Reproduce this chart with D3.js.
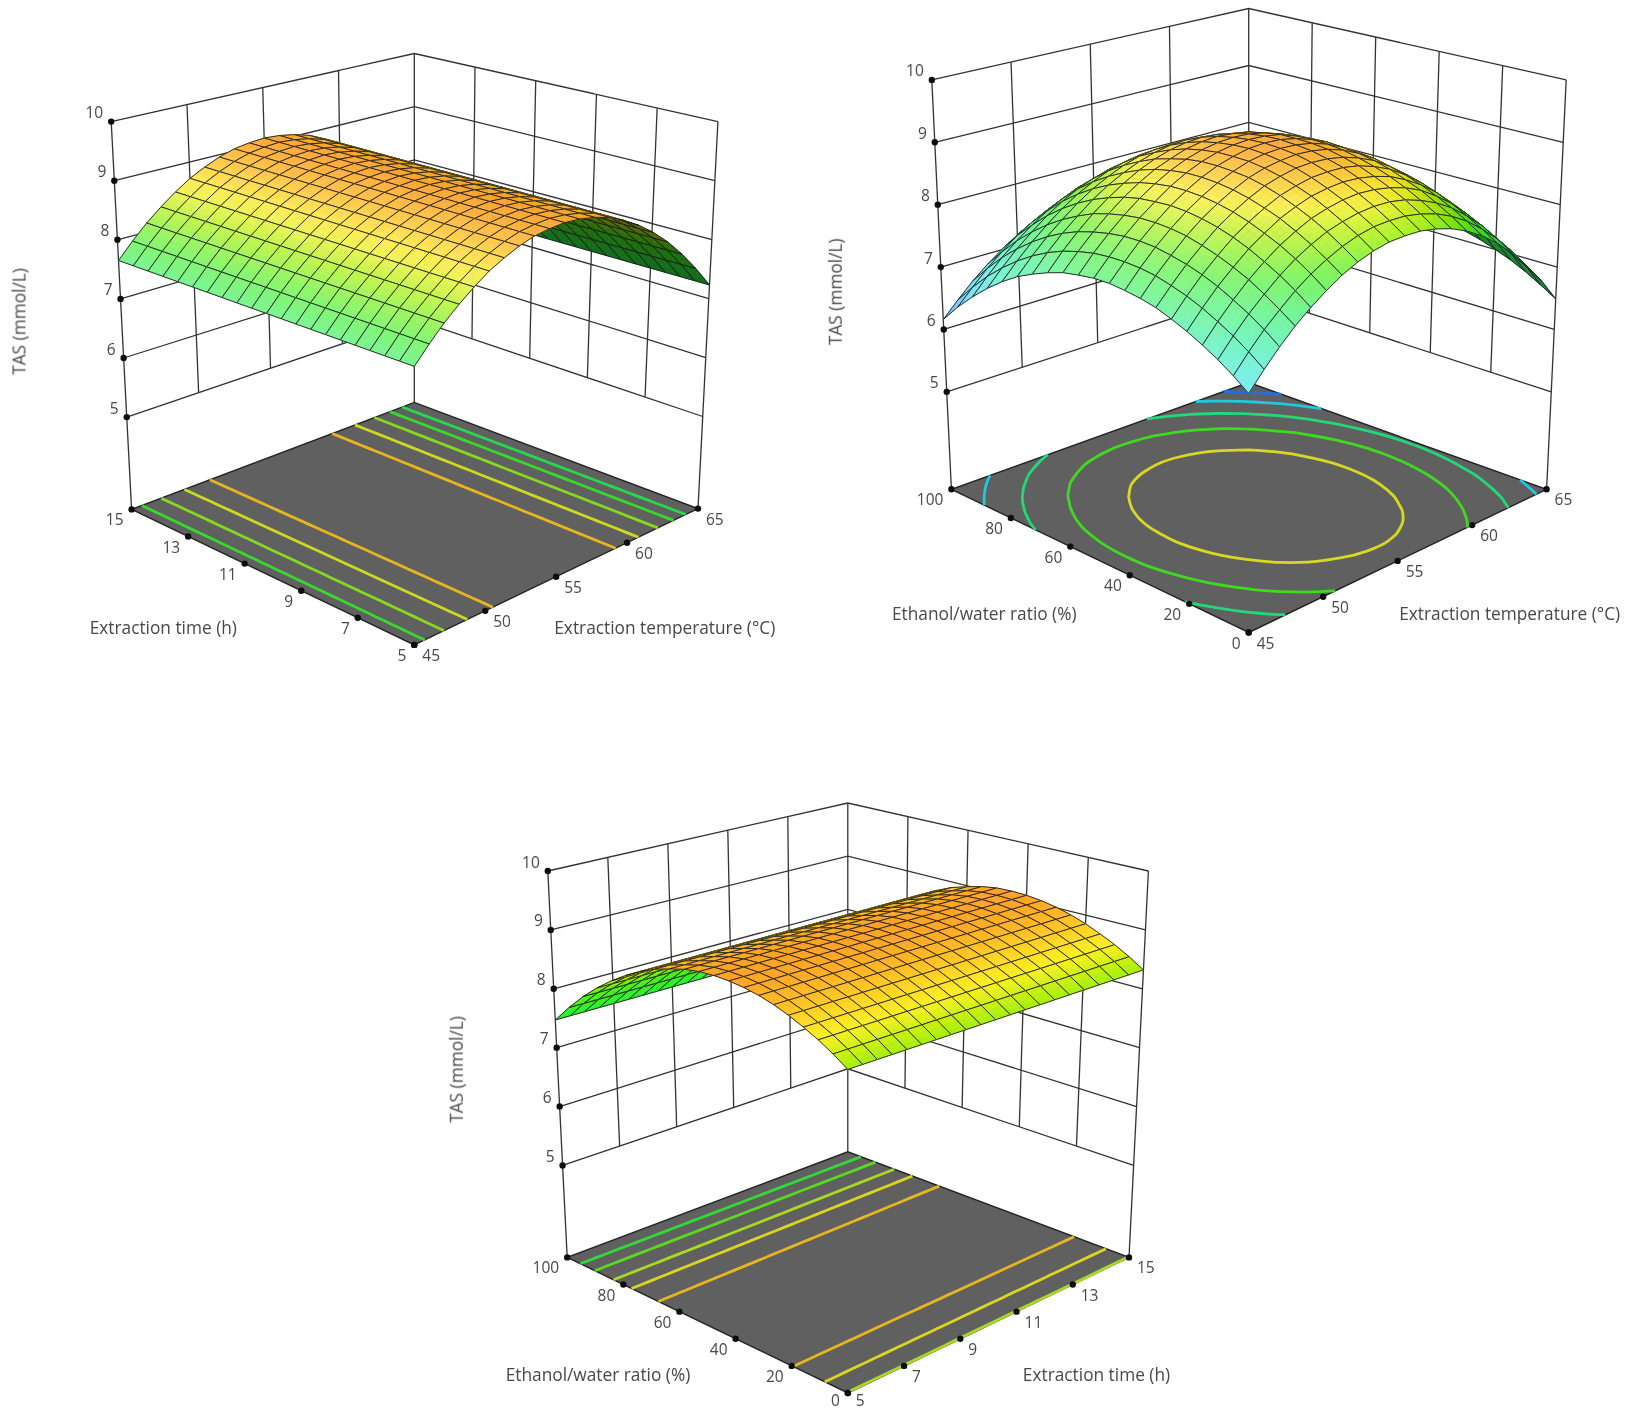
<!DOCTYPE html>
<html>
<head>
<meta charset="utf-8">
<title>TAS response surfaces</title>
<script src="https://cdn.jsdelivr.net/npm/d3@7"></script>
<style>
  html, body { margin: 0; background: #fff; }
  text { font-family: "Open Sans", sans-serif; font-size: 15.5px; fill: #484848; }
  text.title { font-size: 17.3px; }
</style>
</head>
<body>
<svg id="chart" width="1628" height="1411"></svg>
<script>
var tasTicks = [5, 6, 7, 8, 9, 10];
var tempTicks = [45, 50, 55, 60, 65];
var timeTicks = [5, 7, 9, 11, 13, 15];
var ratioTicks = [0, 20, 40, 60, 80, 100];

// TAS read along the temperature axis (time has no visible effect in this plot)
var tempProfile = [7.65, 7.91, 8.15, 8.36, 8.55, 8.72, 8.85, 8.96, 9.04, 9.08, 9.10, 9.08, 9.03, 8.95, 8.82, 8.66, 8.46, 8.22, 7.93, 7.60, 7.23];
// TAS read along the ethanol/water axis (same, time is flat)
var ratioProfile = [8.32, 8.48, 8.62, 8.74, 8.85, 8.94, 9.01, 9.06, 9.09, 9.10, 9.09, 9.05, 8.98, 8.90, 8.78, 8.64, 8.47, 8.27, 8.04, 7.77, 7.47];
// rows: ethanol/water 0..100, columns: temperature 45..65
var tempRatioGrid = [
  [6.75, 7.01, 7.25, 7.47, 7.66, 7.83, 7.98, 8.10, 8.19, 8.25, 8.27, 8.27, 8.23, 8.16, 8.05, 7.90, 7.71, 7.47, 7.19, 6.87, 6.49],
  [6.92, 7.18, 7.42, 7.63, 7.83, 8.00, 8.14, 8.26, 8.35, 8.41, 8.43, 8.43, 8.39, 8.32, 8.21, 8.06, 7.86, 7.63, 7.35, 7.02, 6.64],
  [7.07, 7.33, 7.57, 7.78, 7.98, 8.15, 8.29, 8.41, 8.49, 8.55, 8.58, 8.58, 8.54, 8.46, 8.35, 8.20, 8.00, 7.77, 7.49, 7.16, 6.78],
  [7.20, 7.46, 7.70, 7.92, 8.11, 8.28, 8.42, 8.54, 8.62, 8.68, 8.71, 8.70, 8.66, 8.59, 8.48, 8.32, 8.13, 7.89, 7.61, 7.28, 6.90],
  [7.32, 7.58, 7.82, 8.03, 8.23, 8.39, 8.54, 8.65, 8.74, 8.79, 8.82, 8.81, 8.77, 8.70, 8.58, 8.43, 8.24, 8.00, 7.72, 7.39, 7.00],
  [7.42, 7.68, 7.92, 8.13, 8.33, 8.49, 8.63, 8.75, 8.83, 8.89, 8.91, 8.91, 8.87, 8.79, 8.68, 8.52, 8.33, 8.09, 7.80, 7.47, 7.09],
  [7.51, 7.76, 8.00, 8.21, 8.41, 8.57, 8.71, 8.83, 8.91, 8.97, 8.99, 8.98, 8.94, 8.86, 8.75, 8.59, 8.40, 8.16, 7.87, 7.54, 7.16],
  [7.57, 7.83, 8.06, 8.28, 8.47, 8.63, 8.77, 8.89, 8.97, 9.02, 9.05, 9.04, 9.00, 8.92, 8.80, 8.65, 8.45, 8.21, 7.92, 7.59, 7.21],
  [7.61, 7.87, 8.11, 8.32, 8.51, 8.67, 8.81, 8.92, 9.01, 9.06, 9.08, 9.07, 9.03, 8.95, 8.83, 8.68, 8.48, 8.24, 7.95, 7.62, 7.24],
  [7.64, 7.89, 8.13, 8.34, 8.53, 8.69, 8.83, 8.94, 9.02, 9.08, 9.10, 9.09, 9.04, 8.96, 8.85, 8.69, 8.49, 8.25, 7.96, 7.63, 7.24],
  [7.64, 7.89, 8.13, 8.34, 8.52, 8.69, 8.83, 8.94, 9.02, 9.07, 9.09, 9.08, 9.04, 8.95, 8.84, 8.68, 8.48, 8.24, 7.95, 7.61, 7.23],
  [7.61, 7.87, 8.10, 8.31, 8.50, 8.66, 8.80, 8.91, 8.99, 9.04, 9.06, 9.05, 9.00, 8.92, 8.80, 8.64, 8.44, 8.20, 7.91, 7.57, 7.19],
  [7.57, 7.82, 8.05, 8.26, 8.45, 8.61, 8.75, 8.85, 8.94, 8.99, 9.01, 8.99, 8.95, 8.86, 8.74, 8.58, 8.38, 8.14, 7.85, 7.51, 7.12],
  [7.49, 7.75, 7.98, 8.19, 8.37, 8.53, 8.67, 8.78, 8.86, 8.91, 8.93, 8.91, 8.86, 8.78, 8.66, 8.50, 8.30, 8.05, 7.76, 7.42, 7.03],
  [7.39, 7.65, 7.88, 8.08, 8.27, 8.43, 8.56, 8.67, 8.75, 8.80, 8.82, 8.80, 8.75, 8.67, 8.55, 8.39, 8.18, 7.94, 7.64, 7.30, 6.91],
  [7.27, 7.52, 7.75, 7.95, 8.14, 8.30, 8.43, 8.54, 8.62, 8.66, 8.68, 8.67, 8.62, 8.53, 8.41, 8.25, 8.04, 7.79, 7.50, 7.16, 6.77],
  [7.11, 7.36, 7.59, 7.79, 7.98, 8.14, 8.27, 8.38, 8.45, 8.50, 8.52, 8.50, 8.45, 8.36, 8.24, 8.08, 7.87, 7.62, 7.33, 6.99, 6.60],
  [6.92, 7.17, 7.40, 7.60, 7.79, 7.95, 8.08, 8.18, 8.26, 8.31, 8.32, 8.30, 8.25, 8.17, 8.04, 7.88, 7.67, 7.42, 7.12, 6.78, 6.39],
  [6.70, 6.95, 7.18, 7.38, 7.56, 7.72, 7.85, 7.96, 8.03, 8.08, 8.09, 8.07, 8.02, 7.93, 7.81, 7.64, 7.43, 7.18, 6.89, 6.54, 6.15],
  [6.45, 6.69, 6.92, 7.12, 7.31, 7.46, 7.59, 7.70, 7.77, 7.81, 7.83, 7.81, 7.76, 7.67, 7.54, 7.37, 7.17, 6.91, 6.62, 6.27, 5.88],
  [6.16, 6.40, 6.63, 6.83, 7.01, 7.17, 7.30, 7.40, 7.47, 7.52, 7.53, 7.51, 7.46, 7.37, 7.24, 7.07, 6.86, 6.61, 6.31, 5.96, 5.57]
];

var levelsTempTime = [8.79, 8.50, 8.17, 7.84, 7.55];
var levelsTempRatio = [8.55, 7.95, 7.35, 6.75, 6.20];
var levelsTimeRatio = [8.84, 8.57, 8.33, 8.03, 7.75];

var labelTemp = "Extraction temperature (\u00b0C)";
var labelTime = "Extraction time (h)";
var labelRatio = "Ethanol/water ratio (%)";
var labelTas = "TAS (mmol/L)";

var gridSteps = d3.range(tempProfile.length);

var panels = [
  {
    grid: gridSteps.map(function () { return tempProfile; }),
    levels: levelsTempTime, glow: 0.1,
    aTicks: tempTicks, bTicks: timeTicks, wallA: 3, wallB: 4,
    aLabel: labelTemp, bLabel: labelTime,
    front: [414.3, 644.9], right: [698, 508.6], left: [131.6, 509.4], back: [414.3, 402.4],
    topFront: [414.3, 211], topRight: [717.9, 121.6], topLeft: [111.2, 121.6], topBack: [414.3, 53.5],
    aTitle: [664.8, 627], bTitle: [163.3, 627], zTitle: [18.5, 321.5]
  },
  {
    grid: tempRatioGrid,
    levels: levelsTempRatio, glow: 0.14,
    aTicks: tempTicks, bTicks: ratioTicks, wallA: 3, wallB: 4,
    aLabel: labelTemp, bLabel: labelRatio,
    front: [1248.7, 632.5], right: [1546.6, 489.3], left: [951.4, 489.3], back: [1248.7, 382.5],
    topFront: [1248.7, 159], topRight: [1566.2, 79.9], topLeft: [931.8, 79.9], topBack: [1248.7, 8.5],
    aTitle: [1509.7, 613.6], bTitle: [984.3, 613.6], zTitle: [834.8, 291.8]
  },
  {
    grid: ratioProfile.map(function (v) { return gridSteps.map(function () { return v; }); }),
    levels: levelsTimeRatio, glow: 0.02,
    aTicks: timeTicks, bTicks: ratioTicks, wallA: 4, wallB: 4,
    aLabel: labelTime, bLabel: labelRatio,
    front: [847.8, 1393], right: [1129, 1257.4], left: [567.2, 1257.4], back: [847.8, 1151.8],
    topFront: [847.8, 958.1], topRight: [1148.4, 871], topLeft: [547.8, 871], topBack: [847.8, 803],
    aTitle: [1096.5, 1374.7], bTitle: [598, 1374.7], zTitle: [455.8, 1069.5]
  }
];

// contour and surface colours follow TAS
var surfaceColor = d3.scaleLinear()
  .domain([5.55, 6.15, 6.75, 7.35, 7.95, 8.35, 8.65, 8.95, 9.1])
  .range(["#1f5fe0", "#2a90f0", "#28e0f0", "#20f090", "#40f020", "#a8f000", "#fff020", "#ffb820", "#ffa020"])
  .clamp(true);
var lineColor = d3.scaleLinear()
  .domain([6.15, 6.75, 7.35, 7.55, 7.95, 8.2, 8.55, 8.8])
  .range(["#2468d8", "#20c8e0", "#20d878", "#28d850", "#40d820", "#90d820", "#d8d820", "#e8b420"])
  .clamp(true);

var heightScale = d3.scaleLinear().domain([5, 10]).range([0.238, 1]);

// the box is drawn from its 8 corners, tick spacing is even along each edge
// a: front->right, b: front->left, h: floor->top
function makeCamera(p) {
  function mix(u, v, t) { return u + (v - u) * t; }
  function axis(k) {
    return function (a, b, h) {
      var low = mix(mix(p.front[k], p.right[k], a), mix(p.left[k], p.back[k], a), b);
      var high = mix(mix(p.topFront[k], p.topRight[k], a), mix(p.topLeft[k], p.topBack[k], a), b);
      return mix(low, high, h);
    };
  }
  var fx = axis(0), fy = axis(1);
  return function (a, b, h) { return [fx(a, b, h), fy(a, b, h)]; };
}

function vertexColor(z, slopeA, slopeB, under, glow) {
  var c = d3.rgb(surfaceColor(z));
  if (under) {
    // seen from below: green, dark where the slope runs along a
    var dark = 1 - 0.55 * Math.abs(slopeA) / (Math.abs(slopeA) + Math.abs(slopeB) + 0.01);
    return [c.r * dark, c.g * dark, c.b * dark * 0.4];
  }
  var white = Math.max(0, Math.min(0.5, glow + slopeA * 0.05));
  var shade = 1 - Math.max(0, Math.min(0.2, -slopeA * 0.02));
  return [
    (c.r + (255 - c.r) * white) * shade,
    (c.g + (255 - c.g) * white) * shade,
    (c.b + (255 - c.b) * white) * shade
  ];
}

var svg = d3.select("#chart");
var root = svg.append("g").attr("filter", "url(#soft)");
svg.append("filter").attr("id", "soft")
  .attr("filterUnits", "userSpaceOnUse")
  .attr("x", 0).attr("y", 0).attr("width", 1628).attr("height", 1411)
  .append("feGaussianBlur").attr("stdDeviation", 0.45);

var line = d3.line();
var openCurve = d3.line().curve(d3.curveCatmullRom);
var closedCurve = d3.line().curve(d3.curveCatmullRomClosed);
var subCells = 3;

function drawPanel(p) {
  var g = root.append("g");
  var cam = makeCamera(p);
  var n = p.grid.length, z = p.grid;
  var step = d3.scaleLinear().domain([0, n - 1]).range([0, 1]);
  var aPos = d3.scaleLinear().domain(d3.extent(p.aTicks)).range([0, 1]);
  var bPos = d3.scaleLinear().domain(d3.extent(p.bTicks)).range([0, 1]);
  var top = heightScale(10), low = heightScale(5);

  function segment(list, stroke, width) {
    g.append("g").selectAll("path").data(list).enter().append("path")
      .attr("d", function (d) { return line(d); })
      .attr("fill", "none").attr("stroke", stroke).attr("stroke-width", width);
  }

  // walls
  var wall = [];
  tasTicks.forEach(function (v) {
    var h = heightScale(v);
    wall.push([cam(0, 1, h), cam(1, 1, h), cam(1, 0, h)]);
  });
  d3.range(1, p.wallA + 1).forEach(function (i) {
    var t = i / (p.wallA + 1);
    wall.push([cam(t, 1, low), cam(t, 1, top)]);
  });
  d3.range(1, p.wallB + 1).forEach(function (i) {
    var t = i / (p.wallB + 1);
    wall.push([cam(1, t, low), cam(1, t, top)]);
  });
  wall.push([cam(0, 1, 0), cam(0, 1, top)]);
  wall.push([cam(1, 1, 0), cam(1, 1, top)]);
  wall.push([cam(1, 0, 0), cam(1, 0, top)]);
  segment(wall, "#333", 1.3);

  // floor
  g.append("path")
    .attr("d", line([cam(0, 0, 0), cam(1, 0, 0), cam(1, 1, 0), cam(0, 1, 0)]) + "Z")
    .attr("fill", "#606060").attr("stroke", "#222").attr("stroke-width", 1.4);

  // contours on the floor
  var flat = d3.merge(z);
  var contourGen = d3.contours().size([n, n]).thresholds(p.levels);
  var inside = function (pt) {
    return pt[0] >= 0.49 && pt[0] <= n - 0.49 && pt[1] >= 0.49 && pt[1] <= n - 0.49;
  };
  contourGen(flat).forEach(function (c) {
    var dStr = "";
    c.coordinates.forEach(function (poly) {
      poly.forEach(function (ring) {
        var run = [], broken = false;
        ring.forEach(function (pt) {
          if (!inside(pt)) {
            broken = true;
            if (run.length > 1) { dStr += openCurve(run); }
            run = [];
            return;
          }
          run.push(cam(step(pt[0] - 0.5), step(pt[1] - 0.5), 0));
        });
        if (!broken) { dStr += closedCurve(run.slice(0, -1)); }
        else if (run.length > 1) { dStr += openCurve(run); }
      });
    });
    g.append("path").attr("d", dStr).attr("fill", "none")
      .attr("stroke", lineColor(c.value)).attr("stroke-width", 2.8);
  });

  // tick dots
  var dots = [];
  p.aTicks.forEach(function (v) { dots.push(cam(aPos(v), 0, 0)); });
  p.bTicks.forEach(function (v) { dots.push(cam(0, bPos(v), 0)); });
  tasTicks.forEach(function (v) { dots.push(cam(0, 1, heightScale(v))); });
  g.append("g").selectAll("circle").data(dots).enter().append("circle")
    .attr("cx", function (d) { return d[0]; }).attr("cy", function (d) { return d[1]; })
    .attr("r", 3.2).attr("fill", "#111");

  // surface, far cells first; each cell is filled with small patches so colour runs smoothly
  function slopes(i, j) {
    var i0 = Math.max(i - 1, 0), i1 = Math.min(i + 1, n - 1);
    var j0 = Math.max(j - 1, 0), j1 = Math.min(j + 1, n - 1);
    return [
      (z[j][i1] - z[j][i0]) / (i1 - i0) * (n - 1),
      (z[j1][i] - z[j0][i]) / (j1 - j0) * (n - 1)
    ];
  }
  var cells = [];
  d3.range(n - 1).forEach(function (j) {
    d3.range(n - 1).forEach(function (i) {
      cells.push({ i: i, j: j });
    });
  });
  cells.sort(function (x, y) { return (y.i + y.j) - (x.i + x.j); });

  var patches = [];
  cells.forEach(function (d) {
    var i = d.i, j = d.j;
    var c00 = z[j][i], c10 = z[j][i + 1], c11 = z[j + 1][i + 1], c01 = z[j + 1][i];
    function at(s, t) {
      var v = c00 * (1 - s) * (1 - t) + c10 * s * (1 - t) + c11 * s * t + c01 * (1 - s) * t;
      return cam(step(i + s), step(j + t), heightScale(v));
    }
    var q0 = at(0, 0), q1 = at(1, 0), q3 = at(0, 1);
    var under = (q1[0] - q0[0]) * (q3[1] - q0[1]) - (q1[1] - q0[1]) * (q3[0] - q0[0]) > 0;
    var s00 = slopes(i, j), s10 = slopes(i + 1, j), s11 = slopes(i + 1, j + 1), s01 = slopes(i, j + 1);
    var k00 = vertexColor(c00, s00[0], s00[1], under, p.glow), k10 = vertexColor(c10, s10[0], s10[1], under, p.glow);
    var k11 = vertexColor(c11, s11[0], s11[1], under, p.glow), k01 = vertexColor(c01, s01[0], s01[1], under, p.glow);
    d3.range(subCells).forEach(function (sj) {
      d3.range(subCells).forEach(function (si) {
        var s = si / subCells, t = sj / subCells, e = 1 / subCells;
        var cs = s + e / 2, ct = t + e / 2;
        var rgb = [0, 1, 2].map(function (m) {
          return k00[m] * (1 - cs) * (1 - ct) + k10[m] * cs * (1 - ct) + k11[m] * cs * ct + k01[m] * (1 - cs) * ct;
        });
        var fill = d3.rgb(rgb[0], rgb[1], rgb[2]).formatHex();
        patches.push({
          d: line([at(s, t), at(s + e, t), at(s + e, t + e), at(s, t + e)]) + "Z",
          fill: fill, stroke: fill, width: 0.6, opacity: 1
        });
      });
    });
    patches.push({
      d: line([q0, q1, at(1, 1), q3]) + "Z",
      fill: "none", stroke: "#1c1c1c", width: 1, opacity: 0.9
    });
  });
  g.append("g").selectAll("path").data(patches).enter().append("path")
    .attr("d", function (d) { return d.d; })
    .attr("fill", function (d) { return d.fill; })
    .attr("stroke", function (d) { return d.stroke; })
    .attr("stroke-width", function (d) { return d.width; })
    .attr("stroke-opacity", function (d) { return d.opacity; })
    .attr("stroke-linejoin", "round");

  // tick labels
  function label(pos, txt, anchor, dx, dy, cls) {
    g.append("text").attr("class", cls || null)
      .attr("x", pos[0] + dx).attr("y", Math.min(pos[1] + dy, 1399.5))
      .attr("text-anchor", anchor).attr("dominant-baseline", "central").text(txt);
  }
  tasTicks.forEach(function (v) { label(cam(0, 1, heightScale(v)), v, "end", -8, -9.5); });
  p.aTicks.forEach(function (v) { label(cam(aPos(v), 0, 0), v, "start", 8, 10); });
  p.bTicks.forEach(function (v) { label(cam(0, bPos(v), 0), v, "end", -8, 10); });

  // axis titles
  label(p.aTitle, p.aLabel, "middle", 0, 0, "title");
  label(p.bTitle, p.bLabel, "middle", 0, 0, "title");
  g.append("text").attr("class", "title").attr("transform", "translate(" + p.zTitle + ") rotate(-90)")
    .attr("text-anchor", "middle").attr("dominant-baseline", "central").text(labelTas);
}

panels.forEach(drawPanel);
</script>
</body>
</html>
